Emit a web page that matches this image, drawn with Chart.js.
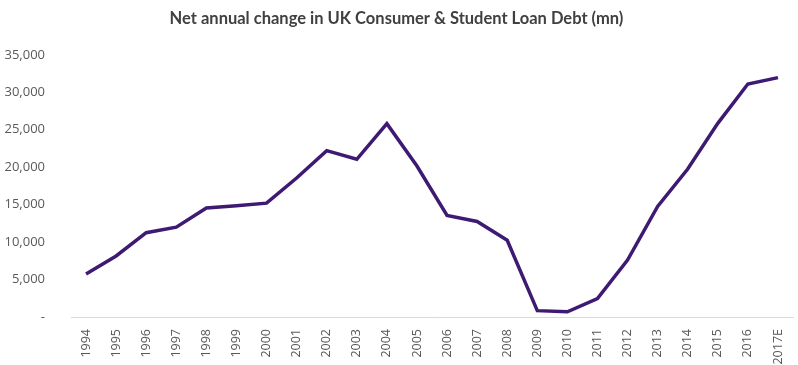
<!DOCTYPE html>
<html>
<head>
<meta charset="utf-8">
<script src="https://cdn.jsdelivr.net/npm/chart.js@4"></script>
<style>
body { margin: 0; background: #fff; }
#wrap { width: 798px; height: 365px; }
</style>
</head>
<body>
<div id="wrap"><canvas id="debtChart"></canvas></div>
<script>
var years = ['1994', '1995', '1996', '1997', '1998', '1999', '2000', '2001', '2002', '2003', '2004', '2005',
	'2006', '2007', '2008', '2009', '2010', '2011', '2012', '2013', '2014', '2015', '2016', '2017E'];
var netChange = [5750, 8150, 11250, 12000, 14550, 14850, 15200, 18550, 22200, 21050, 25800, 20150,
	13550, 12750, 10250, 850, 700, 2450, 7600, 14750, 19750, 25850, 31100, 31950];
var yTicks = [0, 5000, 10000, 15000, 20000, 25000, 30000, 35000];

var ctx = document.getElementById("debtChart");
var debtChart = new Chart(ctx, {
	type: 'line',
	data: {
		labels: years,
		datasets: [{
			label: 'Net annual change',
			data: netChange,
			borderColor: '#3f1a72',
			borderWidth: 3.5,
			pointRadius: 0,
			tension: 0,
			fill: false
		}]
	},
	options: {
		responsive: true,
		maintainAspectRatio: false,
		animation: false,
		layout: { padding: { left: 0, right: 5, top: 0, bottom: 0 } },
		plugins: {
			legend: { display: false },
			tooltip: { enabled: false },
			title: {
				display: true,
				text: 'Net annual change in UK Consumer & Student Loan Debt (mn)',
				color: '#404040',
				font: { family: 'Lato', size: 16.5, weight: 'bold' },
				padding: { top: 9, bottom: 26 }
			}
		},
		scales: {
			x: {
				offset: true,
				grid: { display: false },
				border: { display: true, color: '#d9d9d9', width: 1 },
				ticks: {
					color: '#595959',
					font: { family: 'Open Sans', size: 12.5 },
					minRotation: 90,
					maxRotation: 90,
					autoSkip: false,
					padding: 4
				},
				afterFit: function(scale) { scale.height = 48; }
			},
			y: {
				min: 0,
				max: 35000,
				grid: { display: false },
				border: { display: false },
				afterBuildTicks: function(scale) {
					scale.ticks = yTicks.map(function(v) { return { value: v }; });
				},
				ticks: {
					color: '#595959',
					font: { family: 'Open Sans', size: 13 },
					padding: 18,
					callback: function(value) {
						if (value == 0) return '-';
						return value.toLocaleString('en-US');
					}
				},
				afterFit: function(scale) { scale.width = 71; }
			}
		}
	}
});
</script>
</body>
</html>
